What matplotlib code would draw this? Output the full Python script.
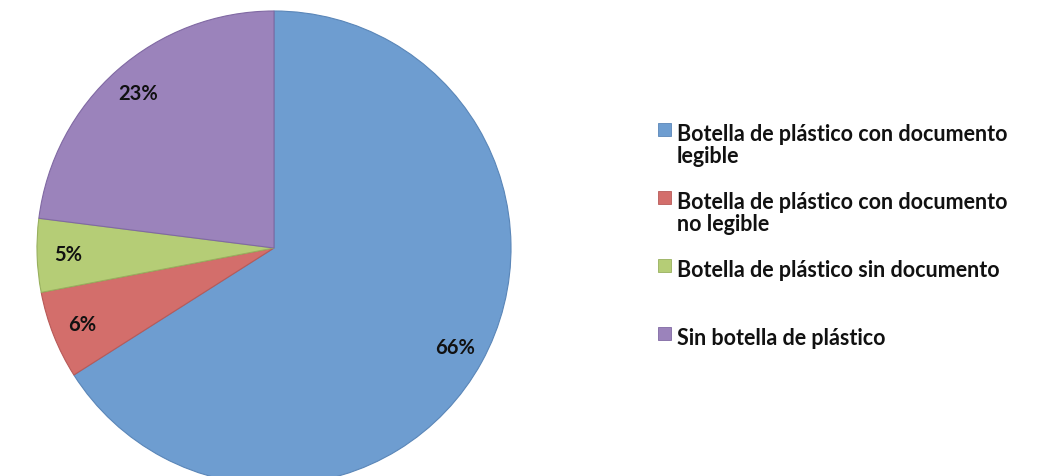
import matplotlib
matplotlib.use("Agg")
import matplotlib.pyplot as plt
from matplotlib.patches import Rectangle

# data
labels = ["Botella de plástico con documento\nlegible",
          "Botella de plástico con documento\nno legible",
          "Botella de plástico sin documento",
          "Sin botella de plástico"]
values = [66, 6, 5, 23]
colors = ["#6E9DD0", "#D36E6B", "#B5CD76", "#9B83BB"]
edges = ["#5A86B8", "#B85A58", "#98B05E", "#8069A3"]

plt.rcParams['font.family'] = ['Lato', 'DejaVu Sans']

H = 477
fig = plt.figure(figsize=(10.42, 4.77), dpi=100)
ax = fig.add_axes([0, 0, 1, 1])

wedges, texts, autotexts = ax.pie(values, colors=colors, startangle=90, counterclock=False,
                                  center=(274, H - 249), radius=237, frame=True,
                                  autopct='%1.0f%%', pctdistance=0.87,
                                  wedgeprops=dict(linewidth=0.8),
                                  textprops=dict(fontsize=14.5, fontweight='bold', color='#111111'))
for w, e in zip(wedges, edges):
    w.set_edgecolor(e)
ax.set_xlim(0, 1042)
ax.set_ylim(0, H)
ax.set_aspect('equal')
ax.axis('off')

# legend drawn by hand so the box lines up with the first line of text
y0 = 124
step = 68
for i in range(len(labels)):
    y = y0 + i * step
    ax.add_patch(Rectangle((658, H - y - 13), 13, 13, facecolor=colors[i], edgecolor=edges[i], lw=0.6))
    ax.text(677, H - y, labels[i], fontsize=15.5, fontweight='bold', color='#111111',
            va='top', ha='left', linespacing=1.05)

fig.savefig("out.png", dpi=100)
